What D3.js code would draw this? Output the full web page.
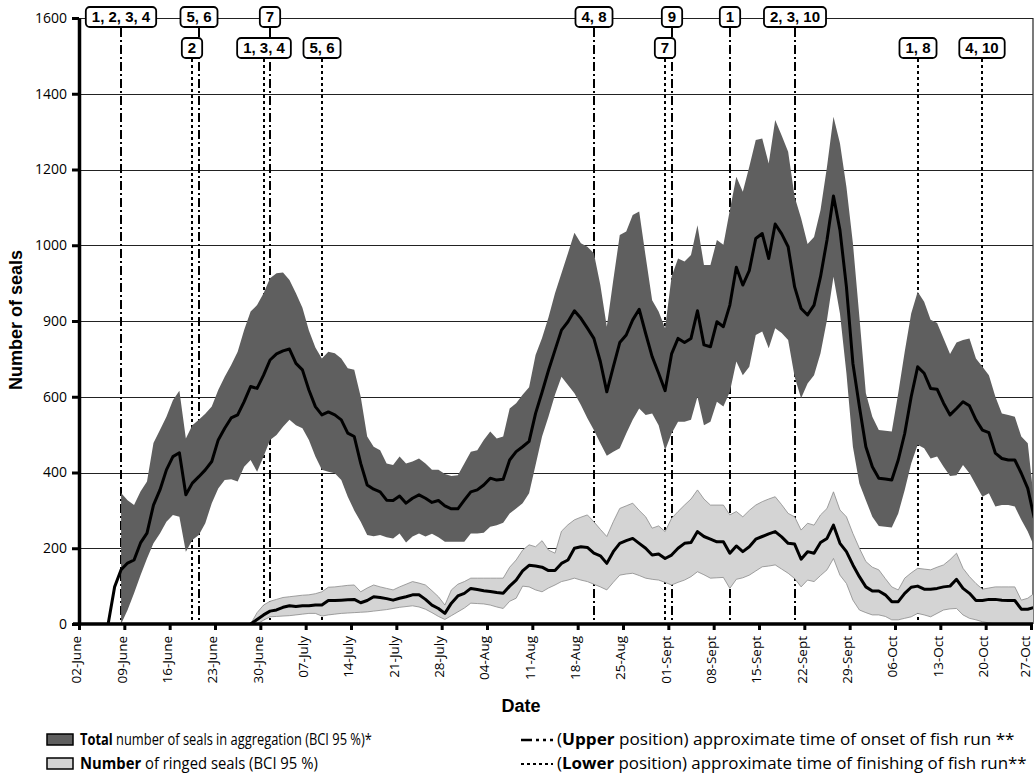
<!DOCTYPE html>
<html>
<head>
<meta charset="utf-8">
<script src="https://cdn.jsdelivr.net/npm/d3@7"></script>
<style>
  body { margin: 0; background: #fff; }
  svg { display: block; font-family: "Open Sans", "Liberation Sans", Arial, sans-serif; }
</style>
</head>
<body>
<svg id="chart" width="1035" height="773"></svg>
<script>
// DATA (one value per day, day 0 = 02 June)
var firstDay = new Date(Date.UTC(2014, 5, 2));

var totalMeanStart = 4;
var totalMean = [0, 98, 143, 161, 169, 214, 240, 314, 354, 407,
  442, 452, 341, 372, 389, 407, 429, 486, 517, 544,
  552, 587, 627, 622, 657, 697, 713, 721, 726, 688,
  671, 618, 574, 552, 560, 552, 539, 504, 495, 424,
  367, 356, 349, 327, 326, 338, 319, 332, 341, 332,
  321, 326, 312, 304, 304, 327, 349, 354, 367, 385,
  380, 382, 433, 455, 468, 482, 556, 612, 670, 723,
  776, 798, 827, 807, 781, 754, 693, 613, 679, 743,
  763, 803, 831, 767, 706, 662, 616, 713, 754, 743,
  754, 827, 737, 732, 798, 785, 842, 942, 895, 933,
  1018, 1031, 965, 1056, 1030, 996, 890, 833, 816, 842,
  917, 1014, 1130, 1040, 890, 688, 574, 468, 415, 385,
  383, 380, 433, 503, 600, 679, 662, 622, 620, 583,
  552, 569, 587, 576, 539, 512, 505, 451, 437, 433,
  433, 398, 358, 280];

var totalBandStart = 6;
var totalUpper = [346, 327, 314, 350, 376, 478, 512, 547, 591, 616,
  490, 525, 539, 555, 574, 618, 653, 684, 719, 776,
  825, 842, 873, 913, 926, 928, 908, 873, 835, 775,
  730, 701, 719, 715, 701, 675, 671, 600, 495, 468,
  459, 424, 420, 442, 424, 429, 437, 424, 407, 407,
  396, 391, 393, 424, 455, 459, 486, 508, 490, 495,
  569, 583, 605, 625, 710, 755, 810, 873, 926, 979,
  1033, 1005, 996, 979, 895, 785, 908, 1027, 1036, 1080,
  1089, 970, 855, 825, 781, 917, 965, 957, 974, 1053,
  948, 948, 1014, 1001, 1093, 1181, 1141, 1207, 1278, 1282,
  1216, 1331, 1290, 1247, 1128, 1071, 1003, 1022, 1093, 1207,
  1339, 1269, 1154, 1005, 811, 609, 547, 512, 510, 508,
  609, 719, 820, 877, 851, 803, 795, 754, 713, 743,
  750, 754, 701, 679, 657, 600, 556, 552, 547, 495,
  477, 319];
var totalLower = [0, 37, 81, 129, 173, 213, 239, 270, 288, 283,
  191, 222, 235, 266, 319, 358, 380, 382, 376, 415,
  433, 402, 442, 486, 499, 521, 539, 525, 517, 486,
  442, 407, 402, 398, 380, 336, 300, 270, 235, 232,
  235, 229, 226, 239, 215, 231, 239, 231, 238, 229,
  217, 217, 217, 217, 239, 239, 241, 257, 261, 267,
  292, 305, 319, 345, 420, 495, 548, 605, 653, 631,
  609, 578, 543, 512, 477, 444, 455, 464, 503, 539,
  569, 552, 556, 525, 459, 503, 534, 534, 539, 600,
  525, 534, 587, 574, 613, 693, 657, 679, 763, 772,
  728, 781, 768, 750, 653, 596, 635, 657, 715, 803,
  917, 820, 662, 468, 371, 327, 283, 259, 257, 255,
  292, 354, 424, 473, 464, 437, 442, 415, 391, 393,
  420, 398, 367, 336, 345, 310, 314, 314, 310, 275,
  244, 204];

var ringedStart = 26;
var ringedMean = [0, 12, 24, 34, 37, 44, 48, 46, 48, 48,
  50, 50, 62, 62, 63, 64, 65, 56, 62, 72,
  70, 67, 63, 68, 72, 77, 77, 65, 50, 41,
  28, 55, 74, 81, 94, 91, 88, 86, 83, 81,
  100, 116, 140, 155, 153, 150, 141, 141, 160, 169,
  200, 204, 202, 187, 180, 160, 191, 213, 220, 226,
  213, 200, 182, 185, 173, 182, 200, 213, 215, 244,
  231, 224, 217, 217, 187, 206, 191, 204, 224, 231,
  238, 244, 230, 213, 211, 171, 191, 187, 215, 226,
  261, 213, 191, 156, 125, 98, 87, 87, 77, 59,
  59, 81, 97, 100, 92, 92, 94, 98, 100, 118,
  94, 81, 62, 62, 65, 65, 63, 62, 62, 39,
  39, 44];
var ringedUpper = [0, 30, 50, 60, 65, 70, 72, 74, 76, 77,
  80, 85, 97, 98, 100, 102, 103, 85, 95, 103,
  98, 94, 90, 98, 105, 112, 108, 103, 88, 72,
  50, 90, 105, 112, 121, 121, 121, 121, 121, 121,
  150, 169, 195, 209, 204, 220, 195, 187, 245, 262,
  275, 282, 288, 270, 250, 231, 270, 305, 312, 319,
  300, 283, 253, 259, 244, 279, 297, 314, 330, 354,
  330, 314, 314, 314, 288, 297, 283, 300, 314, 323,
  330, 336, 315, 292, 283, 248, 266, 261, 288, 305,
  349, 301, 283, 239, 200, 165, 150, 143, 120, 98,
  90, 121, 135, 147, 145, 143, 150, 156, 170, 187,
  147, 125, 107, 92, 95, 98, 98, 98, 98, 63,
  68, 81];
var ringedLower = [0, 0, 10, 19, 20, 21, 22, 24, 26, 28,
  28, 21, 24, 26, 28, 29, 30, 31, 32, 34,
  36, 38, 41, 44, 46, 48, 45, 39, 30, 20,
  12, 22, 32, 42, 55, 54, 53, 50, 45, 41,
  60, 68, 100, 98, 90, 85, 95, 103, 112, 116,
  121, 116, 112, 105, 98, 90, 110, 129, 132, 134,
  128, 121, 118, 116, 110, 103, 110, 116, 125, 138,
  130, 121, 122, 123, 94, 118, 122, 129, 140, 151,
  153, 156, 145, 134, 120, 98, 116, 112, 128, 143,
  173, 129, 107, 63, 37, 30, 24, 24, 20, 11,
  11, 15, 19, 28, 24, 19, 28, 37, 40, 41,
  24, 15, 11, 6, 3, 0, 0, 0, 0, 0,
  0, 0];

// fish runs: onset (upper labels) and finishing (lower labels)
var onsetDates = ["2014-06-08", "2014-06-20", "2014-07-01", "2014-08-20", "2014-09-01", "2014-09-10", "2014-09-20"];
var onsetLabels = ["1, 2, 3, 4", "5, 6", "7", "4, 8", "9", "1", "2, 3, 10"];
var finishDates = ["2014-06-19", "2014-06-30", "2014-07-09", "2014-08-31", "2014-10-09", "2014-10-19"];
var finishLabels = ["2", "1, 3, 4", "5, 6", "7", "1, 8", "4, 10"];

var xTickLabels = ["02-June", "09-June", "16-June", "23-June", "30-June", "07-July", "14-July",
  "21-July", "28-July", "04-Aug", "11-Aug", "18-Aug", "25-Aug", "01-Sept", "08-Sept",
  "15-Sept", "22-Sept", "29-Sept", "06-Oct", "13-Oct", "20-Oct", "27-Oct"];
var yTickValues = [0, 200, 400, 600, 800, 1000, 1200, 1400, 1600];
var yTickLabels = ["0", "200", "400", "600", "900", "1000", "1200", "1400", "1600"];

//LAYOUT

var svg = d3.select("#chart"),
    plotLeft = 79, plotRight = 1033, plotTop = 18, plotBottom = 624;

var parseDay = d3.utcParse("%Y-%m-%d");
var lastTick = d3.utcDay.offset(firstDay, 7 * (xTickLabels.length - 1));

var x = d3.scaleUtc().domain([firstDay, lastTick]).range([plotLeft, 1031]);
var y = d3.scaleLinear().domain([0, 1600]).range([plotBottom, plotTop]);

function noon(start, i) { return d3.utcHour.offset(d3.utcDay.offset(firstDay, start + i), 12); }
function runX(d) { return Math.round(x(d3.utcHour.offset(parseDay(d), 12))); }

svg.append("defs").append("clipPath").attr("id", "plotclip")
  .append("rect").attr("x", plotLeft).attr("y", plotTop)
  .attr("width", plotRight - plotLeft).attr("height", plotBottom - plotTop);

// gridlines
svg.append("g").selectAll("line")
  .data(yTickValues.slice(1))
  .enter().append("line")
    .attr("x1", plotLeft).attr("x2", plotRight)
    .attr("y1", function(d) { return Math.round(y(d)) + 0.5; })
    .attr("y2", function(d) { return Math.round(y(d)) + 0.5; })
    .attr("stroke", "#222").attr("stroke-width", 1);

svg.append("line")
  .attr("x1", plotRight).attr("x2", plotRight).attr("y1", plotTop).attr("y2", plotBottom)
  .attr("stroke", "#222").attr("stroke-width", 1.2);

// fish run lines (behind the bands)
var runs = svg.append("g");
runs.selectAll(".onset")
  .data(onsetDates)
  .enter().append("line")
    .attr("class", "onset")
    .attr("x1", runX).attr("x2", runX)
    .attr("y1", plotTop + 10).attr("y2", plotBottom)
    .attr("stroke", "#000").attr("stroke-width", 2)
    .attr("stroke-dasharray", "9,3,2,3");

runs.selectAll(".finish")
  .data(finishDates)
  .enter().append("line")
    .attr("class", "finish")
    .attr("x1", runX).attr("x2", runX)
    .attr("y1", 59).attr("y2", plotBottom)
    .attr("stroke", "#000").attr("stroke-width", 2)
    .attr("stroke-dasharray", "3,3");

var plot = svg.append("g").attr("clip-path", "url(#plotclip)");

var totalArea = d3.area()
  .x(function(d, i) { return x(noon(totalBandStart, i)); })
  .y0(function(d, i) { return y(totalLower[i]); })
  .y1(function(d) { return y(d); });

var ringedArea = d3.area()
  .x(function(d, i) { return x(noon(ringedStart, i)); })
  .y0(function(d, i) { return y(ringedLower[i]); })
  .y1(function(d) { return y(d); });

plot.append("path").datum(totalUpper)
  .attr("d", totalArea)
  .attr("fill", "#5f5f5f");

plot.append("path").datum(ringedUpper)
  .attr("d", ringedArea)
  .attr("fill", "#d4d4d4")
  .attr("stroke", "#8a8a8a").attr("stroke-width", 0.8);

plot.append("path").datum(totalMean)
  .attr("d", d3.line()
    .x(function(d, i) { return x(noon(totalMeanStart, i)); })
    .y(function(d) { return y(d); }))
  .attr("fill", "none").attr("stroke", "#000").attr("stroke-width", 3)
  .attr("stroke-linejoin", "round");

plot.append("path").datum(ringedMean)
  .attr("d", d3.line()
    .x(function(d, i) { return x(noon(ringedStart, i)); })
    .y(function(d) { return y(d); }))
  .attr("fill", "none").attr("stroke", "#000").attr("stroke-width", 3)
  .attr("stroke-linejoin", "round");

// AXES

var tickDates = xTickLabels.map(function(d, i) { return d3.utcDay.offset(firstDay, 7 * i); });

var xAxis = svg.append("g")
  .attr("transform", "translate(0," + plotBottom + ")")
  .call(d3.axisBottom(x).tickValues(tickDates)
    .tickFormat(function(d, i) { return xTickLabels[i]; })
    .tickSize(6).tickSizeOuter(0));
xAxis.select(".domain").attr("stroke-width", 3.5).attr("d", "M" + (plotLeft - 6) + ",0H" + plotRight);
xAxis.selectAll(".tick line").attr("stroke-width", 3);
xAxis.selectAll(".tick text")
  .attr("font-size", 13.5)
  .attr("font-family", "Open Sans, sans-serif")
  .attr("fill", "#000")
  .attr("text-anchor", "end")
  .attr("x", -12)
  .attr("y", function(d, i) { return i == xTickLabels.length - 1 ? -6 : -3; })
  .attr("dy", "0.36em")
  .attr("transform", "rotate(-90)");

var yAxis = svg.append("g")
  .attr("transform", "translate(" + plotLeft + ",0)")
  .call(d3.axisLeft(y).tickValues(yTickValues)
    .tickFormat(function(d, i) { return yTickLabels[i]; })
    .tickSize(7).tickSizeOuter(0).tickPadding(5));
yAxis.select(".domain").attr("stroke-width", 3.5);
yAxis.selectAll(".tick line").attr("stroke-width", 3);
yAxis.selectAll(".tick text")
  .attr("font-size", 14)
  .attr("font-family", "Open Sans, sans-serif")
  .attr("fill", "#000");

svg.append("text")
  .attr("transform", "translate(22,320) rotate(-90)")
  .attr("text-anchor", "middle")
  .attr("font-family", "Liberation Sans, Arial, sans-serif")
  .attr("font-weight", "bold").attr("font-size", 18)
  .text("Number of seals");

svg.append("text")
  .attr("x", 521).attr("y", 712)
  .attr("text-anchor", "middle")
  .attr("font-family", "Liberation Sans, Arial, sans-serif")
  .attr("font-weight", "bold").attr("font-size", 18)
  .text("Date");

// FISH RUN LABELS

function drawLabels(dates, labels, cy) {
  var g = svg.append("g");
  dates.forEach(function(d, i) {
    var cx = runX(d);
    var lab = g.append("g");
    var t = lab.append("text")
      .attr("x", cx).attr("y", cy).attr("dy", "0.36em")
      .attr("text-anchor", "middle")
      .attr("font-family", "Liberation Sans, Arial, sans-serif")
      .attr("font-weight", "bold").attr("font-size", 15)
      .text(labels[i]);
    var w = t.node().getComputedTextLength() + 12;
    lab.insert("rect", "text")
      .attr("x", cx - w / 2).attr("y", cy - 10)
      .attr("width", w).attr("height", 20)
      .attr("rx", 4)
      .attr("fill", "#fff").attr("stroke", "#000").attr("stroke-width", 1.8);
  });
}
drawLabels(onsetDates, onsetLabels, 17);
drawLabels(finishDates, finishLabels, 48);

// LEGEND

var legend = svg.append("g")
  .attr("font-family", "Open Sans, sans-serif")
  .attr("font-size", 16);

legend.append("rect").attr("x", 47).attr("y", 734).attr("width", 26).attr("height", 11)
  .attr("fill", "#5f5f5f").attr("stroke", "#000").attr("stroke-width", 1.5);
legend.append("rect").attr("x", 47).attr("y", 758).attr("width", 26).attr("height", 11)
  .attr("fill", "#d4d4d4").attr("stroke", "#000").attr("stroke-width", 1.5);

legend.append("line").attr("x1", 521).attr("x2", 553).attr("y1", 740).attr("y2", 740)
  .attr("stroke", "#000").attr("stroke-width", 2.5).attr("stroke-dasharray", "11,4,3,4,3,4");
legend.append("line").attr("x1", 521).attr("x2", 553).attr("y1", 764).attr("y2", 764)
  .attr("stroke", "#000").attr("stroke-width", 2).attr("stroke-dasharray", "3,3");

// legend entry squeezed horizontally to the width it has in the figure
function legendText(px, py, width, parts) {
  var g = legend.append("g").attr("transform", "translate(" + px + "," + py + ")");
  var t = g.append("text");
  parts.forEach(function(p) {
    t.append("tspan").attr("font-weight", p[1] ? "bold" : "normal").text(p[0]);
  });
  var k = width / t.node().getComputedTextLength();
  t.attr("transform", "scale(" + k + ",1)");
}

legendText(80, 745, 292, [["Total", true], [" number of seals in aggregation (BCI 95 %)*", false]]);
legendText(80, 769, 238, [["Number", true], [" of ringed seals (BCI 95 %)", false]]);
legendText(557, 745, 458, [["(", false], ["Upper", true], [" position) approximate time of onset of fish run **", false]]);
legendText(557, 769, 470, [["(", false], ["Lower", true], [" position) approximate time of finishing of fish run**", false]]);
</script>
</body>
</html>
